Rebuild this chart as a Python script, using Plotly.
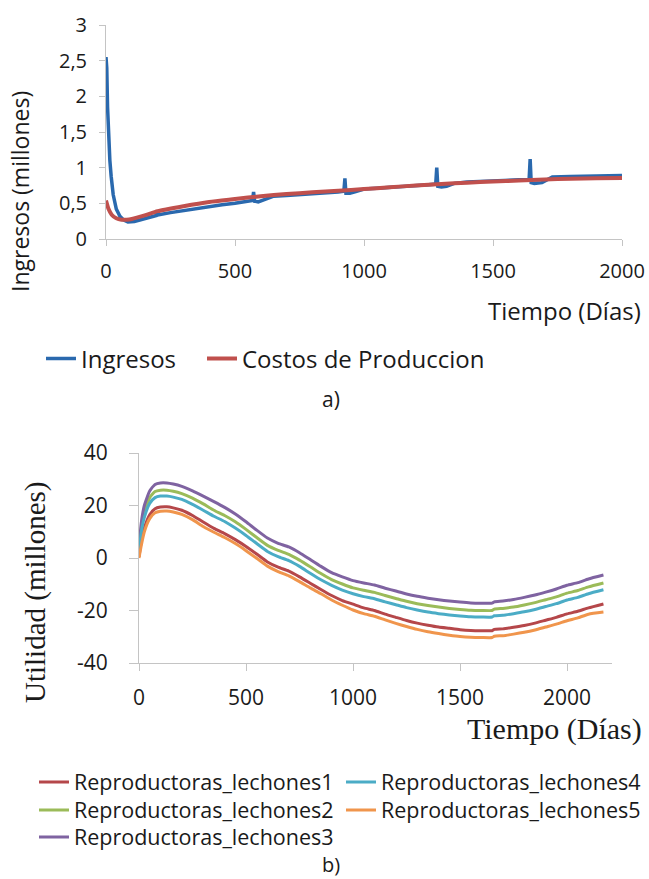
import plotly.graph_objects as go

W, H = 649, 879

# ---------------- Panel a) data ----------------
ingresos_dias = [0, 3, 6, 10, 15, 20, 28, 40, 54, 67, 85, 110, 150, 195, 200, 205, 250, 300,
                 350, 400, 450, 500, 550, 568, 572, 576, 590, 610, 650, 700, 750, 800, 850,
                 900, 922, 926, 930, 945, 965, 1000, 1050, 1100, 1150, 1200, 1250, 1278,
                 1282, 1286, 1300, 1320, 1350, 1400, 1450, 1500, 1550, 1600, 1640, 1644,
                 1648, 1660, 1690, 1700, 1730, 1800, 1900, 2000]
ingresos_val = [2.55, 2.4, 1.85, 1.4, 1.1, 0.88, 0.62, 0.42, 0.32, 0.27, 0.24, 0.245, 0.28,
                0.33, 0.39, 0.34, 0.37, 0.40, 0.43, 0.46, 0.48, 0.50, 0.53, 0.54, 0.66, 0.53,
                0.52, 0.55, 0.60, 0.61, 0.62, 0.63, 0.645, 0.66, 0.67, 0.85, 0.64, 0.64, 0.66,
                0.70, 0.71, 0.72, 0.74, 0.75, 0.76, 0.77, 1.00, 0.74, 0.73, 0.74, 0.78, 0.80,
                0.81, 0.82, 0.825, 0.83, 0.835, 1.12, 0.79, 0.78, 0.79, 0.81, 0.87, 0.875,
                0.885, 0.89]

costos_dias = [0, 10, 22, 40, 60, 80, 100, 150, 200, 300, 400, 500, 600, 700, 800, 900,
               1000, 1100, 1200, 1300, 1400, 1500, 1600, 1700, 1800, 1900, 2000]
costos_val = [0.54, 0.42, 0.34, 0.29, 0.27, 0.27, 0.28, 0.33, 0.39, 0.46, 0.52, 0.56, 0.60,
              0.63, 0.655, 0.675, 0.70, 0.725, 0.75, 0.77, 0.79, 0.805, 0.82, 0.835, 0.845,
              0.85, 0.855]

a_xticks = [0, 500, 1000, 1500, 2000]
a_xticktext = ["0", "500", "1000", "1500", "2000"]
a_yticks = [0, 0.5, 1, 1.5, 2, 2.5, 3]
a_yticktext = ["0", "0,5", "1", "1,5", "2", "2,5", "3"]

# ---------------- Panel b) data ----------------
util_dias = [0, 10, 25, 50, 75, 100, 130, 160, 200, 250, 300, 350, 400, 450, 500, 550, 600,
             650, 700, 750, 800, 850, 900, 950, 1000, 1050, 1100, 1150, 1200, 1250, 1300,
             1350, 1400, 1450, 1500, 1550, 1600, 1650, 1660, 1700, 1750, 1800, 1850, 1900,
             1950, 2000, 2050, 2100, 2170]

lechones3 = [3, 13, 20, 25.5, 28, 28.6, 28.6, 28.2, 27.3, 25.6, 23.6, 21.5, 19.3, 16.8, 13.8,
             10.6, 7.6, 5.6, 4.2, 2.0, -0.6, -3.2, -5.6, -7.2, -8.6, -9.5, -10.3, -11.5,
             -12.6, -13.7, -14.6, -15.3, -15.9, -16.4, -16.8, -17.1, -17.2, -17.2, -16.7,
             -16.4, -15.8, -15.0, -14.1, -13.0, -11.8, -10.4, -9.4, -8.0, -6.5]
lechones2 = [2, 11, 17.5, 23, 25.3, 25.8, 25.8, 25.4, 24.5, 22.8, 20.6, 18.2, 16.2, 13.8, 10.9,
             7.8, 4.8, 2.9, 1.4, -0.8, -3.3, -5.9, -8.2, -9.9, -11.4, -12.3, -13.1, -14.3,
             -15.4, -16.5, -17.4, -18.1, -18.7, -19.2, -19.6, -19.9, -20.0, -20.0, -19.5,
             -19.2, -18.7, -17.9, -17.0, -15.9, -14.8, -13.4, -12.4, -11.0, -9.5]
lechones4 = [1.5, 9.5, 15.5, 20.8, 23, 23.6, 23.6, 23.2, 22.3, 20.4, 18.2, 15.9, 13.9, 11.4,
             8.6, 5.5, 2.5, 0.5, -1.0, -3.2, -5.8, -8.3, -10.4, -12.2, -13.6, -14.7, -15.5,
             -16.7, -17.8, -18.9, -19.8, -20.6, -21.2, -21.7, -22.1, -22.4, -22.5, -22.5,
             -22.0, -21.8, -21.2, -20.5, -19.6, -18.5, -17.4, -16.0, -15.0, -13.6, -12.1]
lechones1 = [0.5, 6, 11.5, 16.5, 18.8, 19.4, 19.5, 19.1, 18.2, 16.2, 13.7, 11.3, 9.3, 7.0, 4.4,
             1.5, -1.5, -3.5, -5.0, -7.2, -9.6, -12.0, -14.3, -16.2, -17.6, -19.0, -20.0,
             -21.4, -22.6, -23.8, -24.8, -25.6, -26.3, -26.8, -27.3, -27.6, -27.7, -27.7,
             -27.2, -27.0, -26.4, -25.7, -24.8, -23.7, -22.6, -21.3, -20.3, -19.0, -17.5]
lechones5 = [0, 4.5, 10, 15, 17.2, 17.8, 17.9, 17.5, 16.6, 14.6, 12.0, 9.8, 7.8, 5.5, 2.8,
             -0.1, -3.1, -5.2, -6.8, -9.0, -11.4, -13.6, -16.0, -18.0, -19.8, -21.2, -22.2,
             -23.6, -24.9, -26.1, -27.2, -28.1, -28.8, -29.4, -29.9, -30.2, -30.3, -30.3,
             -29.8, -29.6, -29.0, -28.3, -27.4, -26.3, -25.2, -23.9, -22.8, -21.4, -20.6]

b_xticks = [0, 500, 1000, 1500, 2000]
b_xticktext = ["0", "500", "1000", "1500", "2000"]
b_yticks = [-40, -20, 0, 20, 40]
b_yticktext = ["-40", "-20", "0", "20", "40"]

# name, values, colour, legend row
series_b = [
    ("Reproductoras_lechones1", lechones1, "#B5474A", "legend2"),
    ("Reproductoras_lechones2", lechones2, "#9BBB59", "legend3"),
    ("Reproductoras_lechones3", lechones3, "#7F63A1", "legend4"),
    ("Reproductoras_lechones4", lechones4, "#4BACC6", "legend2"),
    ("Reproductoras_lechones5", lechones5, "#F0954C", "legend3"),
]

BLUE = "#2A69AE"
RED = "#C0504D"
AXIS_GRAY = "#C4C4C4"
TXT = "#1a1a1a"
SANS = "Open Sans"
SERIF = "Liberation Serif"


def fx(px):
    return px / W


def fy(py):
    return 1 - py / H


fig = go.Figure()
fig.add_trace(go.Scatter(x=ingresos_dias, y=ingresos_val, mode="lines", name="Ingresos",
                         line=dict(color=BLUE, width=3.5), xaxis="x", yaxis="y",
                         legend="legend", legendwidth=116))
fig.add_trace(go.Scatter(x=costos_dias, y=costos_val, mode="lines", name="Costos de Produccion",
                         line=dict(color=RED, width=4, shape="spline", smoothing=0.6),
                         xaxis="x", yaxis="y", legend="legend"))
for name, vals, color, leg in series_b:
    fig.add_trace(go.Scatter(x=util_dias, y=vals, mode="lines", name=name,
                             line=dict(color=color, width=3, shape="spline", smoothing=0.5),
                             xaxis="x2", yaxis="y2", legend=leg))

common = dict(showgrid=False, zeroline=False, showline=True, linecolor=AXIS_GRAY, linewidth=1,
              ticks="outside", tickcolor=AXIS_GRAY, tickwidth=1)

row_legend = dict(orientation="h", x=fx(34), xanchor="left", yanchor="middle",
                  font=dict(family=SANS, size=21.5, color=TXT), bgcolor="rgba(0,0,0,0)",
                  entrywidth=262, entrywidthmode="pixels", traceorder="normal")

fig.update_layout(
    width=W, height=H, margin=dict(l=0, r=0, t=0, b=0, autoexpand=False),
    paper_bgcolor="white", plot_bgcolor="white",
    font=dict(family=SANS, color=TXT),
    xaxis=dict(domain=[fx(106), fx(622)], range=[0, 2000], anchor="y",
               tickvals=a_xticks, ticktext=a_xticktext, ticklen=6, ticklabelstandoff=8,
               tickfont=dict(family=SANS, size=20, color=TXT), **common),
    yaxis=dict(domain=[fy(239), fy(25)], range=[0, 3], anchor="x",
               tickvals=a_yticks, ticktext=a_yticktext, ticklen=6, ticklabelstandoff=8,
               tickfont=dict(family=SANS, size=20, color=TXT), **common),
    xaxis2=dict(domain=[fx(139), fx(612)], range=[0, 2210], anchor="y2",
                tickvals=b_xticks, ticktext=b_xticktext, ticklen=7, ticklabelstandoff=9,
                tickfont=dict(family=SANS, size=21, color=TXT), **common),
    yaxis2=dict(domain=[fy(663), fy(453)], range=[-40, 40], anchor="x2",
                tickvals=b_yticks, ticktext=b_yticktext, ticklen=9, ticklabelstandoff=17,
                tickfont=dict(family=SANS, size=21, color=TXT), **common),
    legend=dict(orientation="h", x=fx(41), xanchor="left", y=fy(359), yanchor="middle",
                font=dict(family=SANS, size=24, color=TXT), bgcolor="rgba(0,0,0,0)",
                traceorder="normal"),
    legend2=dict(row_legend, y=fy(782)),
    legend3=dict(row_legend, y=fy(810)),
    legend4=dict(row_legend, y=fy(837)),
    showlegend=True,
    annotations=[
        dict(text="Ingresos (millones)", x=fx(20), y=fy(192), xref="paper", yref="paper",
             textangle=-90, showarrow=False, xanchor="center", yanchor="middle",
             font=dict(family=SANS, size=23, color=TXT)),
        dict(text="Tiempo (Días)", x=fx(643), y=fy(310), xref="paper", yref="paper",
             showarrow=False, xanchor="right", yanchor="middle",
             font=dict(family=SANS, size=24, color=TXT)),
        dict(text="a)", x=fx(331), y=fy(399), xref="paper", yref="paper",
             showarrow=False, xanchor="center", yanchor="middle",
             font=dict(family=SANS, size=21, color=TXT)),
        dict(text="Utilidad (millones)", x=fx(35), y=fy(592), xref="paper", yref="paper",
             textangle=-90, showarrow=False, xanchor="center", yanchor="middle",
             font=dict(family=SERIF, size=29, color=TXT)),
        dict(text="Tiempo (Días)", x=fx(644), y=fy(729), xref="paper", yref="paper",
             showarrow=False, xanchor="right", yanchor="middle",
             font=dict(family=SERIF, size=30, color=TXT)),
        dict(text="b)", x=fx(331), y=fy(864), xref="paper", yref="paper",
             showarrow=False, xanchor="center", yanchor="middle",
             font=dict(family=SANS, size=20, color=TXT)),
    ],
)

fig.write_html(
    "out.html",
    config={"displayModeBar": False},
    post_script="document.body.style.margin='0';document.body.style.overflow='hidden';",
)
